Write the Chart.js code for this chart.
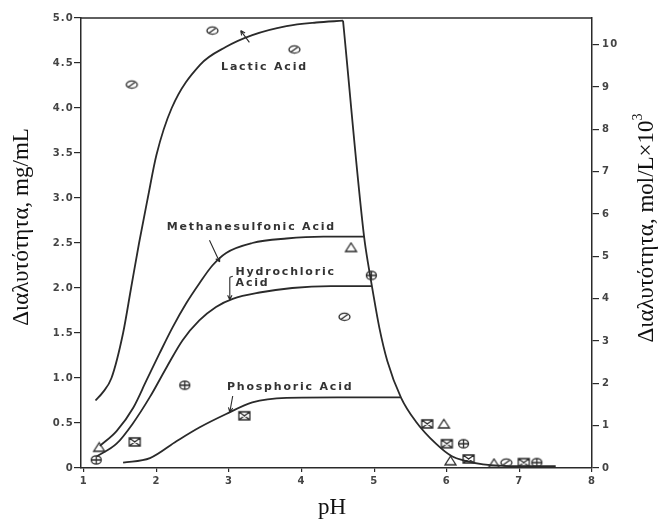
<!DOCTYPE html>
<html>
<head>
<meta charset="utf-8">
<script src="https://cdn.jsdelivr.net/npm/chart.js@4.4.1/dist/chart.umd.min.js"></script>
<style>
  html, body { margin: 0; padding: 0; background: #fff; }
</style>
</head>
<body>
<canvas id="chart" width="661" height="523"></canvas>
<script>
// ===== DATA (pH vs solubility, mg/mL) ===== //
const lacticCurveX = [1.16, 1.26, 1.38, 1.54, 1.65, 1.76, 1.88, 2.0, 2.21, 2.6, 2.96, 3.32, 3.79, 4.2, 4.57];
const lacticCurveY = [0.75, 0.84, 1.0, 1.5, 2.0, 2.5, 3.0, 3.48, 4.0, 4.48, 4.68, 4.81, 4.91, 4.95, 4.97];

// common falling branch (all acids meet it above pH 4.5)
const fallCurveX = [4.57, 4.86, 4.93, 4.97, 5.07, 5.18, 5.37, 5.57, 5.85, 6.07, 6.26, 6.5, 7.0, 7.5];
const fallCurveY = [4.97, 2.57, 2.2, 2.01, 1.56, 1.19, 0.78, 0.52, 0.27, 0.13, 0.08, 0.04, 0.02, 0.02];

const methaneCurveX = [1.22, 1.45, 1.68, 1.86, 2.04, 2.22, 2.41, 2.59, 2.77, 2.96, 3.32, 3.79, 4.3, 4.86];
const methaneCurveY = [0.245, 0.41, 0.67, 0.97, 1.27, 1.56, 1.83, 2.05, 2.25, 2.39, 2.5, 2.55, 2.57, 2.57];

const hclCurveX = [1.18, 1.45, 1.67, 1.91, 2.14, 2.36, 2.59, 2.82, 3.05, 3.42, 3.87, 4.4, 4.97];
const hclCurveY = [0.13, 0.27, 0.49, 0.79, 1.12, 1.42, 1.64, 1.79, 1.88, 1.95, 2.0, 2.02, 2.02];

const phosCurveX = [1.54, 1.91, 2.28, 2.59, 2.96, 3.32, 3.79, 4.5, 5.36];
const phosCurveY = [0.06, 0.11, 0.3, 0.45, 0.6, 0.73, 0.78, 0.785, 0.785];

// measured points
const lacticPtsX = [1.66, 2.77, 3.9, 4.59, 6.82];
const lacticPtsY = [4.26, 4.86, 4.65, 1.68, 0.06];
const methanePtsX = [1.21, 4.68, 5.96, 6.05, 6.65];
const methanePtsY = [0.23, 2.45, 0.49, 0.08, 0.05];
const hclPtsX = [1.17, 2.39, 4.96, 6.23, 7.24];
const hclPtsY = [0.09, 0.92, 2.14, 0.27, 0.06];
const phosPtsX = [1.7, 3.21, 5.73, 6.0, 6.3, 7.06];
const phosPtsY = [0.29, 0.58, 0.49, 0.27, 0.1, 0.06];

// axes
const phMin = 0.96, phMax = 8;
const massMax = 5.0;
const molarMax = 10.63;

const INK = "#2a2a2a";
const SERIF = '"Liberation Serif", "Times New Roman", serif';

// ===== HELPERS ===== //
function zip(xs, ys) {
  return xs.map((x, i) => ({ x: x, y: ys[i] }));
}

function makeMarker(kind) {
  const c = document.createElement("canvas");
  c.width = 15; c.height = 12;
  const g = c.getContext("2d");
  g.strokeStyle = INK;
  g.lineWidth = 1.3;
  const cx = 7.5, cy = 6;
  g.beginPath();
  if (kind === "slash") {
    g.ellipse(cx, cy, 5.5, 3.6, 0, 0, Math.PI * 2);
    g.moveTo(cx - 3.5, cy + 2.5);
    g.lineTo(cx + 3.5, cy - 2.5);
  } else if (kind === "tri") {
    g.moveTo(cx, cy - 4.5);
    g.lineTo(cx + 5.5, cy + 4);
    g.lineTo(cx - 5.5, cy + 4);
    g.closePath();
  } else if (kind === "plus") {
    g.ellipse(cx, cy, 5, 4.2, 0, 0, Math.PI * 2);
    g.moveTo(cx - 5, cy); g.lineTo(cx + 5, cy);
    g.moveTo(cx, cy - 4.2); g.lineTo(cx, cy + 4.2);
  } else {
    g.rect(cx - 5.5, cy - 4, 11, 8);
    g.moveTo(cx - 5.5, cy - 4); g.lineTo(cx + 5.5, cy + 4);
    g.moveTo(cx + 5.5, cy - 4); g.lineTo(cx - 5.5, cy + 4);
  }
  g.stroke();
  return c;
}

function curve(xs, ys) {
  return {
    data: zip(xs, ys),
    showLine: true,
    borderColor: INK,
    borderWidth: 1.8,
    pointRadius: 0,
    cubicInterpolationMode: "monotone",
    yAxisID: "y"
  };
}

function points(xs, ys, kind) {
  return {
    data: zip(xs, ys),
    showLine: false,
    pointStyle: makeMarker(kind),
    yAxisID: "y"
  };
}

// ===== ANNOTATIONS (labels + pointers, data coords) ===== //
const labels = [
  { text: "Lactic Acid", x: 2.89, y: 4.45 },
  { text: "Methanesulfonic Acid", x: 2.14, y: 2.68 },
  { text: "Hydrochloric", x: 3.09, y: 2.18 },
  { text: "Acid", x: 3.09, y: 2.05 },
  { text: "Phosphoric Acid", x: 2.97, y: 0.9 }
];
const pointers = [
  [3.28, 4.73, 3.16, 4.86],
  [2.73, 2.53, 2.87, 2.29],
  [3.01, 2.12, 3.01, 1.87],
  [3.05, 0.80, 3.01, 0.62]
];

function drawArrow(ctx, x1, y1, x2, y2) {
  ctx.beginPath();
  ctx.moveTo(x1, y1);
  ctx.lineTo(x2, y2);
  const a = Math.atan2(y2 - y1, x2 - x1);
  ctx.moveTo(x2, y2);
  ctx.lineTo(x2 - 5 * Math.cos(a - 0.45), y2 - 5 * Math.sin(a - 0.45));
  ctx.moveTo(x2, y2);
  ctx.lineTo(x2 - 5 * Math.cos(a + 0.45), y2 - 5 * Math.sin(a + 0.45));
  ctx.stroke();
}

const annotationPlugin = {
  id: "annotations",
  beforeDraw(chart) {
    chart.ctx.letterSpacing = "1.2px";
  },
  afterDraw(chart) {
    const { ctx, chartArea, scales } = chart;
    const sx = scales.x, sy = scales.y;
    ctx.save();
    ctx.strokeStyle = INK;
    ctx.fillStyle = INK;

    // top frame line
    ctx.lineWidth = 1.5;
    ctx.beginPath();
    ctx.moveTo(chartArea.left, chartArea.top);
    ctx.lineTo(chartArea.right, chartArea.top);
    ctx.stroke();

    // curve labels
    ctx.letterSpacing = "1.8px";
    ctx.font = 'bold 11px "DejaVu Sans"';
    ctx.fillStyle = "#333";
    ctx.textAlign = "left";
    ctx.textBaseline = "middle";
    labels.forEach(l => {
      ctx.fillText(l.text, sx.getPixelForValue(l.x), sy.getPixelForValue(l.y));
    });

    ctx.lineWidth = 1.1;
    pointers.forEach(p => {
      drawArrow(ctx, sx.getPixelForValue(p[0]), sy.getPixelForValue(p[1]),
        sx.getPixelForValue(p[2]), sy.getPixelForValue(p[3]));
    });
    // little bracket foot on the hydrochloric pointer
    const bx = sx.getPixelForValue(3.01), by = sy.getPixelForValue(2.12);
    ctx.beginPath();
    ctx.moveTo(bx, by);
    ctx.lineTo(bx + 3, by - 1);
    ctx.stroke();

    // axis titles
    ctx.letterSpacing = "0px";
    ctx.font = "23px " + SERIF;
    ctx.textAlign = "center";
    ctx.textBaseline = "middle";
    ctx.fillStyle = "#111";
    ctx.fillText("pH", 332, 508);

    ctx.save();
    ctx.translate(22, 227);
    ctx.rotate(-Math.PI / 2);
    ctx.fillText("Διαλυτότητα, mg/mL", 0, 0);
    ctx.restore();

    ctx.save();
    ctx.translate(647, 228);
    ctx.rotate(-Math.PI / 2);
    const main = "Διαλυτότητα, mol/L×10";
    const w1 = ctx.measureText(main).width;
    ctx.font = "14px " + SERIF;
    const w2 = ctx.measureText("3").width;
    const start = -(w1 + w2) / 2;
    ctx.textAlign = "left";
    ctx.fillText("3", start + w1, -9);
    ctx.font = "23px " + SERIF;
    ctx.fillText(main, start, 0);
    ctx.restore();

    ctx.restore();
  }
};

// ===== CHART ===== //
const tickFont = { family: "DejaVu Sans", size: 10, weight: "bold" };

const chart = new Chart(document.getElementById("chart"), {
  type: "scatter",
  data: {
    datasets: [
      curve(lacticCurveX, lacticCurveY),
      curve(fallCurveX, fallCurveY),
      curve(methaneCurveX, methaneCurveY),
      curve(hclCurveX, hclCurveY),
      curve(phosCurveX, phosCurveY),
      points(lacticPtsX, lacticPtsY, "slash"),
      points(methanePtsX, methanePtsY, "tri"),
      points(hclPtsX, hclPtsY, "plus"),
      points(phosPtsX, phosPtsY, "box")
    ]
  },
  options: {
    responsive: false,
    animation: false,
    layout: { padding: { top: 18, left: 0, right: 0, bottom: 0 } },
    plugins: {
      legend: { display: false },
      tooltip: { enabled: false }
    },
    scales: {
      x: {
        type: "linear",
        min: phMin,
        max: phMax,
        afterFit: s => { s.height = 55; },
        border: { color: INK, width: 1.5 },
        grid: { drawOnChartArea: false, tickLength: 4, color: INK, lineWidth: 1.2 },
        ticks: { stepSize: 1, includeBounds: false, padding: 3, color: "#444", font: tickFont }
      },
      y: {
        position: "left",
        min: 0,
        max: massMax,
        afterFit: s => { s.width = 81; },
        border: { color: INK, width: 1.5 },
        grid: { drawOnChartArea: false, tickLength: 7, color: INK, lineWidth: 1.2 },
        ticks: {
          stepSize: 0.5,
          padding: 0,
          color: "#444",
          font: tickFont,
          callback: v => (v === 0 ? "0" : v.toFixed(1))
        }
      },
      y1: {
        position: "right",
        display: true,
        min: 0,
        max: molarMax,
        afterFit: s => { s.width = 69; },
        border: { color: INK, width: 1.5 },
        grid: { drawOnChartArea: false, tickLength: 7, color: INK, lineWidth: 1.2 },
        ticks: { stepSize: 1, includeBounds: false, padding: 3, color: "#444", font: tickFont }
      }
    }
  },
  plugins: [annotationPlugin]
});
</script>
</body>
</html>
